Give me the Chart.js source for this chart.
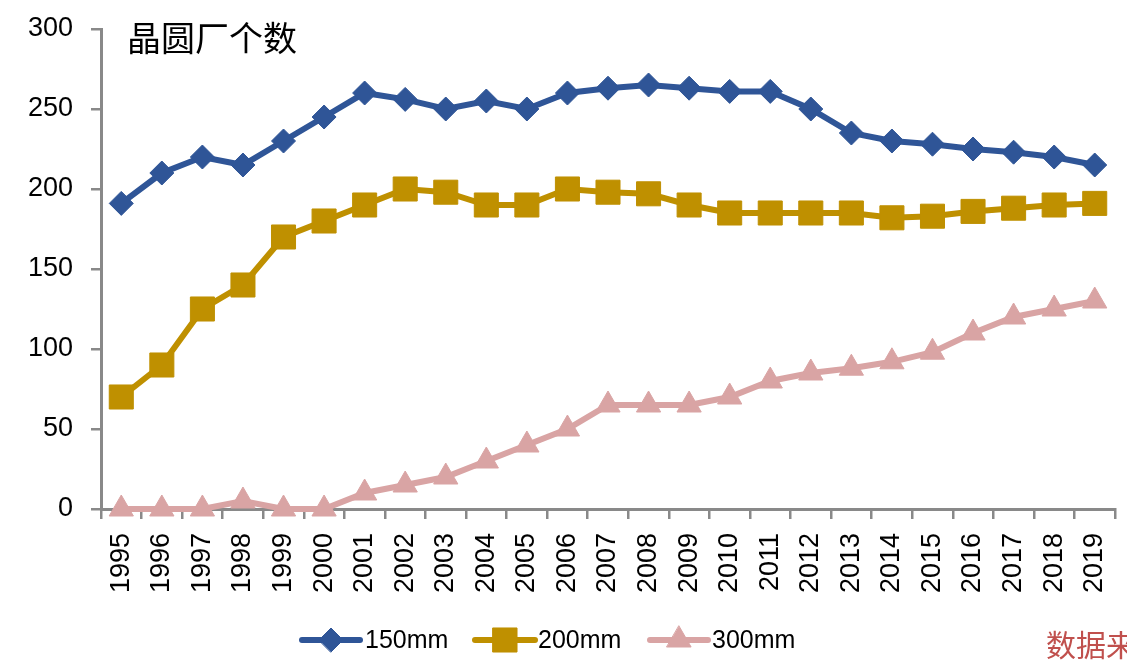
<!DOCTYPE html>
<html>
<head>
<meta charset="utf-8">
<script src="https://cdn.jsdelivr.net/npm/chart.js@4/dist/chart.umd.min.js"></script>
<style>
html,body{margin:0;padding:0;background:#fff;}
#wrap{position:relative;width:1127px;height:663px;overflow:hidden;}
canvas{display:block;}
</style>
</head>
<body>
<div id="wrap"><canvas id="c" width="1127" height="663"></canvas></div>
<script>
const years = ['1995','1996','1997','1998','1999','2000','2001','2002','2003','2004','2005','2006','2007','2008','2009','2010','2011','2012','2013','2014','2015','2016','2017','2018','2019'];
const fab150 = [191,210,220,215,230,245,260,256,250,255,250,260,263,265,263,261,261,250,235,230,228,225,223,220,215];
const fab200 = [70,90,125,140,170,180,190,200,198,190,190,200,198,197,190,185,185,185,185,182,183,186,188,190,191];
const fab300 = [0,0,0,5,0,0,10,15,20,30,40,50,65,65,65,70,80,85,88,92,98,110,120,125,130];
const seriesNames = ['150mm','200mm','300mm'];
const yTicks = [0,50,100,150,200,250,300];
const titleText = '晶圆厂个数';
const sourceText = '数据来源：SEMI';

const colors = ['#2f5597','#bf9000','#d9a4a4'];
const styles = ['rectRot','rect','triangle'];
const radii = [12,17,14];
const axisGrey = '#898989';
const FONT = '"Liberation Sans", Arial, sans-serif';

function ds(i, data){
  return {
    label: seriesNames[i], data: data,
    borderColor: colors[i], backgroundColor: colors[i],
    borderWidth: 6, pointStyle: styles[i], pointRadius: radii[i],
    pointBorderWidth: 1, pointHoverRadius: radii[i],
    tension: 0, clip: false
  };
}

const overlay = {
  id: 'overlay',
  afterDraw(chart){
    const ctx = chart.ctx;
    ctx.save();
    ctx.fillStyle = '#000';
    ctx.font = '34px "Noto Sans CJK SC", sans-serif';
    ctx.textAlign = 'left'; ctx.textBaseline = 'middle';
    ctx.fillText(titleText, 127, 38);
    const items = [{x1:302,x2:360,tx:365},{x1:475,x2:535,tx:538},{x1:650,x2:708,tx:712}];
    const ly = 640;
    chart.data.datasets.forEach((d,i)=>{
      const it = items[i];
      ctx.strokeStyle = d.borderColor; ctx.lineWidth = 6; ctx.lineCap = 'round';
      ctx.beginPath(); ctx.moveTo(it.x1, ly); ctx.lineTo(it.x2, ly); ctx.stroke();
      ctx.fillStyle = d.backgroundColor;
      ctx.lineWidth = 1;
      Chart.helpers.drawPoint(ctx, {pointStyle: d.pointStyle, radius: d.pointRadius, rotation: 0, borderWidth: 1}, (it.x1+it.x2)/2, ly);
      ctx.fillStyle = '#000';
      ctx.font = '25px ' + FONT;
      ctx.textAlign = 'left'; ctx.textBaseline = 'middle';
      ctx.fillText(d.label, it.tx, ly + 1);
    });
    ctx.fillStyle = '#c0504d';
    ctx.font = '30px "Noto Sans CJK SC", sans-serif';
    ctx.textAlign = 'left'; ctx.textBaseline = 'middle';
    ctx.fillText(sourceText, 1046, 645);
    ctx.restore();
  }
};

new Chart(document.getElementById('c'), {
  type: 'line',
  data: { labels: years, datasets: [ds(0,fab150), ds(1,fab200), ds(2,fab300)] },
  options: {
    responsive: false, animation: false,
    layout: { autoPadding: false, padding: { top: 29, left: 0, right: 12, bottom: 0 } },
    plugins: { legend: { display: false }, tooltip: { enabled: false }, title: { display: false } },
    scales: {
      x: {
        type: 'category', offset: true,
        grid: { display: true, drawOnChartArea: false, drawTicks: true, tickLength: 10, color: axisGrey, lineWidth: 2.5, offset: true },
        border: { display: true, color: axisGrey, width: 3 },
        ticks: { color: '#000', font: { family: FONT, size: 27 }, minRotation: 90, maxRotation: 90, padding: 14, autoSkip: false },
        afterFit(s){ s.height = 154; s.paddingLeft = 0; s.paddingRight = 0; }
      },
      y: {
        min: 0, max: 300,
        afterBuildTicks(s){ s.ticks = yTicks.map(v=>({value:v})); },
        grid: { display: true, drawOnChartArea: false, drawTicks: true, tickLength: 10, color: axisGrey, lineWidth: 2.5 },
        border: { display: true, color: axisGrey, width: 3 },
        ticks: { color: '#000', font: { family: FONT, size: 27 }, padding: 18 },
        afterFit(s){ s.width = 101; s.paddingTop = 0; s.paddingBottom = 0; }
      }
    }
  },
  plugins: [overlay]
});
</script>
</body>
</html>
